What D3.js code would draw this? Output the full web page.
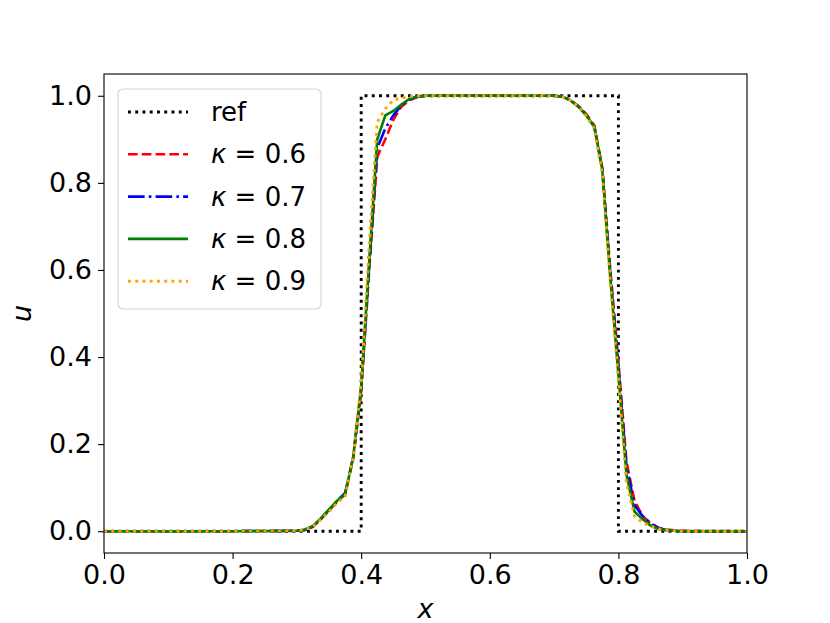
<!DOCTYPE html>
<html>
<head>
<meta charset="utf-8">
<script src="https://cdn.jsdelivr.net/npm/d3@7"></script>
<style>
  body { margin: 0; background: #fff; }
  text { font-family: "DejaVu Sans", sans-serif; }
</style>
</head>
<body>
<div id="chart"></div>
<script>
// data
const xs = [0, 0.1, 0.2, 0.3, 0.3125, 0.325, 0.3375, 0.35, 0.3625, 0.375, 0.3875, 0.4,
  0.4125, 0.425, 0.4375, 0.45, 0.4625, 0.475, 0.4875, 0.5, 0.6, 0.7,
  0.7125, 0.725, 0.7375, 0.75, 0.7625, 0.775, 0.7875, 0.8, 0.8125, 0.825,
  0.8375, 0.85, 0.8625, 0.875, 0.8875, 0.9, 1.0];

const k06 = [0, 0, 0, 0.001, 0.003, 0.01, 0.028, 0.048, 0.068, 0.085, 0.165, 0.32,
  0.6, 0.86, 0.9, 0.945, 0.975, 0.99, 0.997, 1, 1, 1,
  0.998, 0.99, 0.977, 0.958, 0.932, 0.835, 0.6, 0.39, 0.16, 0.07,
  0.035, 0.018, 0.008, 0.004, 0.002, 0.001, 0];
const k07 = [0, 0, 0, 0.001, 0.003, 0.011, 0.029, 0.049, 0.07, 0.088, 0.17, 0.33,
  0.61, 0.88, 0.925, 0.955, 0.978, 0.992, 0.998, 1, 1, 1,
  0.998, 0.99, 0.976, 0.956, 0.928, 0.83, 0.59, 0.375, 0.15, 0.06,
  0.035, 0.018, 0.007, 0.003, 0.001, 0, 0];
const k08 = [0, 0, 0, 0.001, 0.004, 0.012, 0.03, 0.05, 0.07, 0.085, 0.17, 0.33,
  0.62, 0.9, 0.955, 0.965, 0.98, 0.993, 0.998, 1, 1, 1,
  0.998, 0.99, 0.975, 0.955, 0.93, 0.83, 0.58, 0.36, 0.13, 0.045,
  0.028, 0.013, 0.005, 0.002, 0.001, 0, 0];
const k09 = [0, 0, 0, 0.001, 0.003, 0.01, 0.027, 0.045, 0.065, 0.08, 0.17, 0.34,
  0.66, 0.94, 0.97, 0.99, 0.995, 0.998, 1, 1, 1, 1,
  0.998, 0.99, 0.975, 0.953, 0.925, 0.82, 0.57, 0.35, 0.11, 0.035,
  0.02, 0.012, 0.005, 0.002, 0.001, 0, 0];

const refX = [0, 0.4, 0.4, 0.8, 0.8, 1];
const refY = [0, 0, 1, 1, 0, 0];

const xTicks = [0, 0.2, 0.4, 0.6, 0.8, 1.0];
const yTicks = [0, 0.2, 0.4, 0.6, 0.8, 1.0];

// set the dimensions and margins of the graph
const W = 830, H = 623;
const margin = {top: 74, right: 83, bottom: 70, left: 104};
const width = W - margin.left - margin.right,
  height = H - margin.top - margin.bottom;

const svg = d3.select("#chart")
  .append("svg")
  .attr("width", W)
  .attr("height", H);

const g = svg.append("g")
  .attr("transform", `translate(${margin.left},${margin.top})`);

const x = d3.scaleLinear().domain([0, 1]).range([0, width]);
const y = d3.scaleLinear().domain([-0.05, 1.05]).range([height, 0]);

svg.append("clipPath").attr("id", "clip")
  .append("rect").attr("width", width).attr("height", height);

const lw = 2.6, lwDot = 2.9;
const series = [
  {name: "ref", xs: refX, ys: refY, color: "black", w: lwDot, dash: `${lwDot} ${1.5 * lwDot}`},
  {name: "0.6", xs: xs, ys: k06, color: "red", w: lw, dash: `${3.7 * lw} ${1.6 * lw}`},
  {name: "0.7", xs: xs, ys: k07, color: "blue", w: lw, dash: `${6.4 * lw} ${1.6 * lw} ${lw} ${1.6 * lw}`},
  {name: "0.8", xs: xs, ys: k08, color: "green", w: lw, dash: null},
  {name: "0.9", xs: xs, ys: k09, color: "orange", w: lwDot, dash: `${lwDot} ${1.5 * lwDot}`}
];

const line = d3.line()
  .x(d => x(d[0]))
  .y(d => y(d[1]));

const plot = g.append("g").attr("clip-path", "url(#clip)");
series.forEach(s => {
  plot.append("path")
    .datum(s.xs.map((v, i) => [v, s.ys[i]]))
    .attr("fill", "none")
    .attr("stroke", s.color)
    .attr("stroke-width", s.w)
    .attr("stroke-dasharray", s.dash)
    .attr("d", line);
});

// axes
const xAxis = g.append("g")
  .attr("transform", `translate(0,${height})`)
  .call(d3.axisBottom(x).tickValues(xTicks).tickFormat(d3.format(".1f")).tickSize(6).tickPadding(6));
const yAxis = g.append("g")
  .call(d3.axisLeft(y).tickValues(yTicks).tickFormat(d3.format(".1f")).tickSize(6).tickPadding(6));
[xAxis, yAxis].forEach(a => {
  a.select(".domain").remove();
  a.selectAll("line").attr("stroke", "black").attr("stroke-width", 1.1);
  a.selectAll("text").attr("font-size", 27).attr("font-family", "DejaVu Sans").attr("fill", "black");
});

// spines
g.append("rect")
  .attr("width", width).attr("height", height)
  .attr("fill", "none").attr("stroke", "black").attr("stroke-width", 1.1);

// axis labels
svg.append("text")
  .attr("x", margin.left + width / 2).attr("y", 618)
  .attr("text-anchor", "middle").attr("font-size", 27).attr("font-style", "italic")
  .text("x");
svg.append("text")
  .attr("transform", `translate(31,${margin.top + y(0.5)}) rotate(-90)`)
  .attr("text-anchor", "middle").attr("font-size", 27).attr("font-style", "italic")
  .text("u");

// legend
const leg = svg.append("g").attr("transform", "translate(118,89)");
leg.append("rect")
  .attr("width", 203).attr("height", 220).attr("rx", 5)
  .attr("fill", "white").attr("fill-opacity", 0.8)
  .attr("stroke", "#d6d6d6").attr("stroke-width", 1.2);
series.forEach((s, i) => {
  const cy = 23 + i * 42.3;
  leg.append("line")
    .attr("x1", 10).attr("x2", 70).attr("y1", cy).attr("y2", cy)
    .attr("stroke", s.color).attr("stroke-width", s.w)
    .attr("stroke-dasharray", s.dash);
  const t = leg.append("text").attr("x", 93).attr("y", cy + 9).attr("font-size", 26);
  if (s.name === "ref") {
    t.text("ref");
  } else {
    t.append("tspan").attr("font-style", "italic").text("κ");
    t.append("tspan").text(" = " + s.name);
  }
});
</script>
</body>
</html>
